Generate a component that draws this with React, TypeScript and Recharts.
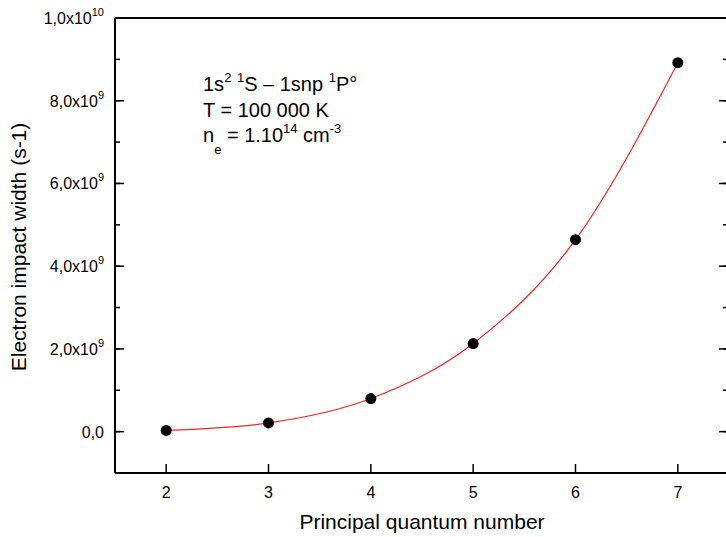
import { ComposedChart, Line, Scatter, XAxis, YAxis } from "recharts";

const QUANTUM_N = [2, 3, 4, 5, 6, 7];
const IMPACT_WIDTH = [0.03e9, 0.21e9, 0.8e9, 2.13e9, 4.64e9, 8.92e9];

const X_TICKS = [2, 3, 4, 5, 6, 7];
const Y_TICKS = [0, 1e9, 2e9, 3e9, 4e9, 5e9, 6e9, 7e9, 8e9, 9e9, 1e10];

const rows = QUANTUM_N.map((n, i) => ({ n, w: IMPACT_WIDTH[i] }));

const FONT = "'Liberation Sans', Arial, sans-serif";
const CHART_W = 730;
const CHART_H = 537;
const M_TOP = 17;
const LEFT_W = 115;
const BOTTOM_H = 64;
// 프레임 위치 (차트 여백에서 계산)
const FRAME = {
  left: LEFT_W,
  right: CHART_W - 1,
  top: M_TOP + 1,
  bottom: CHART_H - BOTTOM_H,
};
const MAJOR = 9;
const MINOR = 5;

const isMajorY = (v: number) => Math.round(v / 1e9) % 2 === 0;

/** 왼쪽 축: 긴 눈금 보강 + 1,0x10^n 라벨 */
function LeftTick(props: any) {
  const { y, payload } = props;
  const v = payload.value as number;
  const x = FRAME.left;
  if (!isMajorY(v)) return <g />;
  let label: any;
  if (v === 0) {
    label = "0,0";
  } else {
    const exp = Math.floor(Math.log10(v) + 1e-9);
    const mant = v / Math.pow(10, exp);
    label = (
      <>
        {mant.toFixed(1).replace(".", ",")}x10
        <tspan dy={-8} fontSize={11}>
          {exp}
        </tspan>
      </>
    );
  }
  return (
    <g>
      <line x1={x} x2={x + MAJOR} y1={y} y2={y} stroke="#000" strokeWidth={1.5} />
      <text x={x - 11} y={y + 6} textAnchor="end" fontSize={16} fontFamily={FONT} fill="#000">
        {label}
      </text>
    </g>
  );
}

function RightTick(props: any) {
  const { y, payload } = props;
  const x = FRAME.right;
  if (!isMajorY(payload.value)) return <g />;
  return <line x1={x} x2={x - MAJOR - 1} y1={y} y2={y} stroke="#000" strokeWidth={1.5} />;
}

function BottomTick(props: any) {
  const { x, payload } = props;
  return (
    <text x={x} y={FRAME.bottom + 25} textAnchor="middle" fontSize={16} fontFamily={FONT} fill="#000">
      {payload.value}
    </text>
  );
}

function Dot(props: any) {
  return <circle cx={props.cx} cy={props.cy} r={5.5} fill="#000" />;
}

export default function App() {
  const axisLine = { stroke: "#000", strokeWidth: 2 };
  const tickLine = { stroke: "#000", strokeWidth: 1.5 };
  return (
    <div
      style={{
        position: "absolute",
        left: 0,
        top: 0,
        width: 726,
        height: 537,
        overflow: "hidden",
        background: "#fff",
      }}
    >
      <ComposedChart
        width={CHART_W}
        height={CHART_H}
        data={rows}
        margin={{ top: M_TOP, right: 0, left: 0, bottom: 0 }}
      >
        <XAxis
          dataKey="n"
          type="number"
          domain={[1.5, 7.5]}
          allowDataOverflow
          ticks={X_TICKS}
          height={BOTTOM_H}
          tickSize={-MAJOR}
          tickLine={tickLine}
          axisLine={axisLine}
          tick={<BottomTick />}
          interval={0}
        />
        <XAxis
          xAxisId="top"
          dataKey="n"
          orientation="top"
          type="number"
          domain={[1.5, 7.5]}
          allowDataOverflow
          ticks={X_TICKS}
          height={1}
          tickSize={-MAJOR}
          tickLine={tickLine}
          axisLine={axisLine}
          tick={false}
          interval={0}
        />
        <YAxis
          type="number"
          domain={[-1e9, 1e10]}
          allowDataOverflow
          ticks={Y_TICKS}
          width={LEFT_W}
          tickSize={-MINOR}
          tickLine={tickLine}
          axisLine={axisLine}
          tick={<LeftTick />}
          interval={0}
        />
        <YAxis
          yAxisId="right"
          orientation="right"
          type="number"
          domain={[-1e9, 1e10]}
          allowDataOverflow
          ticks={Y_TICKS}
          width={1}
          tickSize={-MINOR - 1}
          tickLine={tickLine}
          axisLine={axisLine}
          tick={<RightTick />}
          interval={0}
        />
        {/* 위/오른쪽 축용 보이지 않는 시리즈 */}
        <Line
          xAxisId="top"
          yAxisId="right"
          dataKey="w"
          stroke="none"
          dot={false}
          legendType="none"
          isAnimationActive={false}
        />
        <Line
          dataKey="w"
          type="monotone"
          stroke="#ff2222"
          strokeWidth={1.2}
          dot={false}
          isAnimationActive={false}
        />
        <Scatter dataKey="w" fill="#000" shape={<Dot />} isAnimationActive={false} />
      </ComposedChart>

      <svg
        width={726}
        height={537}
        style={{ position: "absolute", left: 0, top: 0, pointerEvents: "none" }}
        fontFamily={FONT}
        fill="#000"
      >
        <text x={422} y={529} textAnchor="middle" fontSize={21}>
          Principal quantum number
        </text>
        <text x={26} y={247} textAnchor="middle" fontSize={21} transform="rotate(-90, 26, 247)">
          Electron impact width (s-1)
        </text>
        <text x={203} y={91} fontSize={20}>
          1s
          <tspan dy={-9} fontSize={13}>2</tspan>
          <tspan dy={9}> </tspan>
          <tspan dy={-9} fontSize={13}>1</tspan>
          <tspan dy={9}>S – 1snp </tspan>
          <tspan dy={-9} fontSize={13}>1</tspan>
          <tspan dy={9}>P°</tspan>
        </text>
        <text x={203} y={117} fontSize={20}>
          T = 100 000 K
        </text>
        <text x={203} y={142} fontSize={20}>
          n
          <tspan dy={12} fontSize={13}>e</tspan>
          <tspan dy={-12}> = 1.10</tspan>
          <tspan dy={-9} fontSize={13}>14</tspan>
          <tspan dy={9}> cm</tspan>
          <tspan dy={-9} fontSize={13}>-3</tspan>
        </text>
      </svg>
    </div>
  );
}
